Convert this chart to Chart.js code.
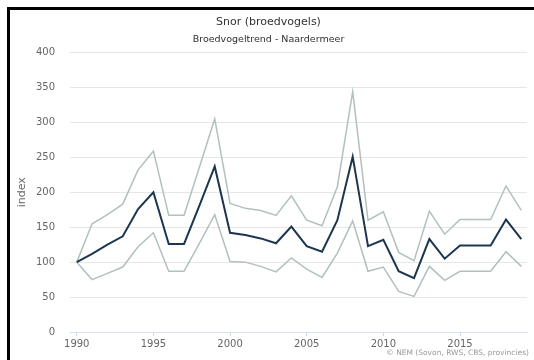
<!DOCTYPE html>
<html>
<head>
<meta charset="utf-8">
<script src="https://cdn.jsdelivr.net/npm/chart.js@4"></script>
<style>
  html, body { margin: 0; padding: 0; background: #fff; }
  #wrap { position: relative; width: 534px; height: 360px; overflow: hidden; }
  #frame { position: absolute; left: 7px; top: 7px; width: 540px; height: 370px;
           border-left: 3px solid #000; border-top: 3px solid #000; pointer-events: none; }
  #credit { position: absolute; right: 5px; top: 348px; font: 7.5px "DejaVu Sans", sans-serif; color: #999; white-space: nowrap; }
</style>
</head>
<body>
<div id="wrap">
  <canvas id="trendChart" width="534" height="360"></canvas>
  <div id="frame"></div>
  <div id="credit">© NEM (Sovon, RWS, CBS, provincies)</div>
</div>
<script>
// gegevens
const chartTitle = 'Snor (broedvogels)';
const chartSubtitle = 'Broedvogeltrend - Naardermeer';
const years = [1990,1991,1992,1993,1994,1995,1996,1997,1998,1999,2000,2001,2002,2003,2004,
               2005,2006,2007,2008,2009,2010,2011,2012,2013,2014,2015,2016,2017,2018,2019];
const indexValues = [100,112,125,137,176,200,126,126,181,237,142,139,134,127,151,
                     123,115,160,251,123,132,87,77,133,105,124,124,124,161,133];
const upperValues = [100,155,168,183,232,259,167,167,236,305,184,177,174,167,195,
                     160,152,208,344,160,172,114,102,173,140,161,161,161,209,174];
const lowerValues = [100,75,84,93,122,142,87,87,127,168,101,100,94,86,106,
                     90,78,113,159,87,93,58,51,94,74,87,87,87,115,94];
const xTicks = [1990,1995,2000,2005,2010,2015];

const FONT = '"Lucida Grande", "DejaVu Sans", sans-serif';

function toPoints(vals) {
    return years.map((y, i) => ({x: y, y: vals[i]}));
}

const ctx = document.getElementById('trendChart').getContext('2d');

new Chart(ctx, {
    type: 'line',
    data: {
        datasets: [
            {label: 'index', data: toPoints(indexValues), borderColor: '#1d3650', borderWidth: 2, pointRadius: 0, tension: 0},
            {label: 'boven', data: toPoints(upperValues), borderColor: '#b2c0bf', borderWidth: 1.5, pointRadius: 0, tension: 0},
            {label: 'onder', data: toPoints(lowerValues), borderColor: '#b2c0bf', borderWidth: 1.5, pointRadius: 0, tension: 0}
        ]
    },
    options: {
        responsive: false,
        animation: false,
        layout: {padding: {left: 10, right: 7, top: 10, bottom: 0}},
        plugins: {
            legend: {display: false},
            tooltip: {enabled: false},
            title: {display: true, text: chartTitle, color: '#333',
                    font: {family: FONT, size: 11, weight: 'normal'}, padding: {top: 6, bottom: 0}},
            subtitle: {display: true, text: chartSubtitle, color: '#2f2f2f',
                       font: {family: FONT, size: 9.5, weight: 'normal'}, padding: {top: 5, bottom: 7}}
        },
        scales: {
            x: {
                type: 'linear', min: 1989.56, max: 2019.37,
                afterBuildTicks: s => { s.ticks = xTicks.map(v => ({value: v})); },
                afterFit: s => { s.height = 28; },
                grid: {drawOnChartArea: false, drawTicks: true, tickLength: 4, color: '#ccd6eb'},
                border: {color: '#d8dde6'},
                ticks: {color: '#666', font: {family: FONT, size: 10}, padding: 2, maxRotation: 0,
                        autoSkip: false, callback: v => String(v)}
            },
            y: {
                min: 0, max: 400,
                afterFit: s => { s.width = 60; },
                ticks: {stepSize: 50, padding: 15, color: '#666', font: {family: FONT, size: 10}},
                grid: {color: '#e6e6e6', drawTicks: false},
                border: {display: false},
                title: {display: true, text: 'index', color: '#666',
                        font: {family: FONT, size: 11}, padding: {top: 6, bottom: 0}}
            }
        }
    }
});
</script>
</body>
</html>
